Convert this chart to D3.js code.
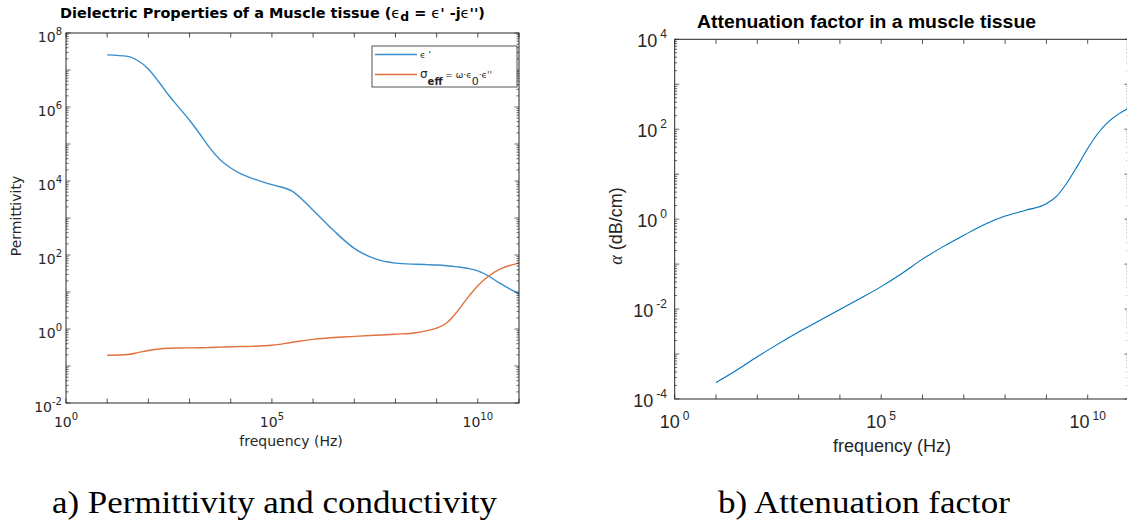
<!DOCTYPE html>
<html>
<head>
<meta charset="utf-8">
<script src="https://cdn.jsdelivr.net/npm/d3@7"></script>
<style>
  html, body { margin: 0; padding: 0; background: #fff; }
  svg { display: block; }
  .fa { font-family: "DejaVu Sans", sans-serif; }
  .fb { font-family: "Liberation Sans", Arimo, Arial, Roboto, sans-serif; }
  .fs { font-family: "Liberation Serif", Tinos, "Times New Roman", "DejaVu Serif", serif; }
</style>
</head>
<body>
<div id="chart"></div>
<script>
"use strict";

// frequencies (Hz) for the muscle tissue curves, left panel
const freqA = [10, 31.6, 56.2, 100, 178, 316, 562, 1e3, 1.78e3, 3.16e3, 5.62e3,
  1e4, 1.78e4, 3.16e4, 1e5, 3.16e5, 1e6, 3.16e6, 1e7, 3.16e7, 1e8, 3.16e8,
  5.62e8, 1e9, 1.78e9, 3.16e9, 5.62e9, 1e10, 1.78e10, 3.16e10, 5.62e10, 1e11];

// relative permittivity eps'
const epsReal = [2.57e7, 2.34e7, 1.78e7, 1.07e7, 4.8e6, 2.04e6, 9.5e5, 4.37e5,
  1.86e5, 7.59e4, 3.7e4, 2.24e4, 1.55e4, 1.2e4, 7.94e3, 5.25e3, 1.62e3, 457,
  151, 79.4, 60.3, 56.2, 55, 53.7, 51.3, 47.9, 43.7, 37.2, 27.5, 18.2, 12.6, 8.9];

// effective conductivity
const sigmaEff = [0.195, 0.204, 0.229, 0.263, 0.288, 0.302, 0.306, 0.309, 0.312,
  0.316, 0.324, 0.331, 0.335, 0.339, 0.363, 0.437, 0.525, 0.589, 0.631, 0.676,
  0.724, 0.794, 0.891, 1.05, 1.48, 2.95, 6.92, 14.8, 26.3, 39.8, 51.3, 60.3];

// right panel
const freqB = [10, 31.6, 100, 316, 1e3, 3.16e3, 1e4, 3.16e4, 1e5, 3.16e5, 1e6,
  3.16e6, 1e7, 3.16e7, 1e8, 3.16e8, 1e9, 1.78e9, 3.16e9, 5.62e9, 1e10, 1.78e10,
  3.16e10, 5.62e10, 1e11];

// attenuation (dB/cm)
const alphaDb = [2.34e-4, 4.37e-4, 8.71e-4, 1.66e-3, 3.09e-3, 5.5e-3, 9.77e-3,
  1.74e-2, 3.16e-2, 6.17e-2, 0.129, 0.245, 0.437, 0.759, 1.17, 1.58, 2.19, 3.24,
  6.46, 15.1, 37.2, 81.3, 145, 219, 295];

const xExpLabels = [0, 5, 10];
const yExpA = [-2, 0, 2, 4, 6, 8];
const yExpB = [-4, -2, 0, 2, 4];

const W = 1127;
const H = 520;
const axisColor = "#262626";

const svg = d3.select("#chart").append("svg")
  .attr("width", W).attr("height", H);

// draw a decade log axes box, MATLAB style
function drawBox(g, x, y, opt) {
  const [x0, x1] = x.range();
  const [y1, y0] = y.range();

  // x ticks: one per decade, top and bottom
  const xt = d3.range(0, 12).map((e) => Math.pow(10, e));
  xt.forEach((v) => {
    const px = x(v);
    g.append("line").attr("x1", px).attr("x2", px)
      .attr("y1", y1).attr("y2", y1 - opt.tick)
      .attr("stroke", axisColor).attr("stroke-width", 0.8);
    g.append("line").attr("x1", px).attr("x2", px)
      .attr("y1", y0).attr("y2", y0 + opt.tick)
      .attr("stroke", axisColor).attr("stroke-width", 0.8);
  });

  // y ticks: major + minor
  const [lo, hi] = y.domain().map((d) => Math.round(Math.log10(d)));
  for (let e = lo; e <= hi; e++) {
    for (let m = 1; m <= 9; m++) {
      const v = m * Math.pow(10, e);
      if (v > Math.pow(10, hi) + 1e-9) break;
      const len = m === 1 ? opt.tick : opt.minor;
      const py = y(v);
      g.append("line").attr("x1", x0).attr("x2", x0 + len)
        .attr("y1", py).attr("y2", py)
        .attr("stroke", axisColor).attr("stroke-width", 0.7);
      g.append("line").attr("x1", x1).attr("x2", x1 - len)
        .attr("y1", py).attr("y2", py)
        .attr("stroke", axisColor).attr("stroke-width", 0.7);
    }
  }

  g.append("rect")
    .attr("x", x0).attr("y", y0)
    .attr("width", x1 - x0).attr("height", y1 - y0)
    .attr("fill", "none")
    .attr("stroke", axisColor).attr("stroke-width", 1);
}

function powLabel(g, px, py, exp, o) {
  const t = g.append("text")
    .attr("class", o.cls)
    .attr("x", px).attr("y", py)
    .attr("text-anchor", o.anchor)
    .attr("font-size", o.size)
    .attr("fill", axisColor);
  t.append("tspan").text("10");
  t.append("tspan")
    .attr("dx", o.gap).attr("dy", -o.raise)
    .attr("font-size", o.sup)
    .text(exp);
}

// ---------- left panel ----------
const gA = svg.append("g");
const xA = d3.scaleLog().domain([1, 1e11]).range([66, 519]);
const yA = d3.scaleLog().domain([1e-2, 1e8]).range([403, 33]);

const lineA = (vals, color) => {
  const pts = freqA.map((f, i) => [f, vals[i]]);
  gA.append("path")
    .datum(pts)
    .attr("fill", "none")
    .attr("stroke", color)
    .attr("stroke-width", 1.4)
    .attr("d", d3.line()
      .x((d) => xA(d[0]))
      .y((d) => yA(d[1]))
      .curve(d3.curveMonotoneX));
};

lineA(epsReal, "#3a8dcc");
lineA(sigmaEff, "#e2713f");
drawBox(gA, xA, yA, { tick: 4.5, minor: 2.5 });

const labA = { anchor: "middle", cls: "fa", size: 14, sup: 10, raise: 7, gap: 0 };
xExpLabels.forEach((e) => powLabel(gA, xA(Math.pow(10, e)), 427, e, labA));
yExpA.forEach((e) => powLabel(gA, 62, yA(Math.pow(10, e)) + 9, e,
  Object.assign({}, labA, { anchor: "end" })));

gA.append("text")
  .attr("class", "fa")
  .attr("x", 291).attr("y", 446)
  .attr("text-anchor", "middle")
  .attr("font-size", 14)
  .attr("fill", axisColor)
  .text("frequency (Hz)");

gA.append("text")
  .attr("class", "fa")
  .attr("transform", "translate(21,216) rotate(-90)")
  .attr("text-anchor", "middle")
  .attr("font-size", 14)
  .attr("fill", axisColor)
  .text("Permittivity");

// title with the tex bits
const titleA = gA.append("text")
  .attr("class", "fa")
  .attr("x", 60).attr("y", 18)
  .attr("font-size", 14)
  .attr("font-weight", "bold").attr("fill", "#000")
  .attr("textLength", 425).attr("lengthAdjust", "spacingAndGlyphs");
titleA.append("tspan").text("Dielectric Properties of a Muscle tissue (");
titleA.append("tspan").attr("font-weight", "normal").text("\u03f5");
titleA.append("tspan").attr("dy", 3).attr("font-size", 12).text("d");
titleA.append("tspan").attr("dy", -3).text(" = ");
titleA.append("tspan").attr("font-weight", "normal").text("\u03f5");
titleA.append("tspan").text("' -j");
titleA.append("tspan").attr("font-weight", "normal").text("\u03f5");
titleA.append("tspan").text("'')");

// legend
const leg = gA.append("g");
leg.append("rect")
  .attr("x", 372).attr("y", 46).attr("width", 145).attr("height", 41)
  .attr("fill", "#fff").attr("stroke", axisColor).attr("stroke-width", 0.8);
leg.append("line").attr("x1", 375).attr("x2", 417).attr("y1", 54.5).attr("y2", 54.5)
  .attr("stroke", "#3a8dcc").attr("stroke-width", 1.4);
leg.append("line").attr("x1", 375).attr("x2", 417).attr("y1", 74.5).attr("y2", 74.5)
  .attr("stroke", "#e2713f").attr("stroke-width", 1.4);
leg.append("text")
  .attr("class", "fa")
  .attr("x", 420).attr("y", 58)
  .attr("font-size", 9).attr("fill", axisColor)
  .text("\u03f5 '");
const lt = leg.append("text")
  .attr("class", "fa")
  .attr("x", 420).attr("y", 78)
  .attr("font-size", 9).attr("fill", axisColor);
lt.append("tspan").attr("font-size", 12).text("\u03c3");
lt.append("tspan").attr("dy", 7).attr("font-size", 10).attr("font-weight", "bold").text("eff");
lt.append("tspan").attr("dy", -7).text(" = \u03c9\u00b7\u03f5");
lt.append("tspan").attr("dy", 7).attr("font-size", 11).text("0");
lt.append("tspan").attr("dy", -7).text("\u00b7\u03f5''");

// ---------- right panel ----------
const gB = svg.append("g");
const xB = d3.scaleLog().domain([1, 1e11]).range([674.7, 1129]);
const yB = d3.scaleLog().domain([1e-4, 1e4]).range([399, 39.3]);

gB.append("path")
  .datum(freqB.map((f, i) => [f, alphaDb[i]]))
  .attr("fill", "none")
  .attr("stroke", "#0072BD")
  .attr("stroke-width", 1.1)
  .attr("d", d3.line()
    .x((d) => xB(d[0]))
    .y((d) => yB(d[1]))
    .curve(d3.curveMonotoneX));

drawBox(gB, xB, yB, { tick: 4.5, minor: 2.5 });

const labB = { anchor: "middle", cls: "fb", size: 18, sup: 12, raise: 8, gap: 3 };
xExpLabels.forEach((e) => powLabel(gB, xB(Math.pow(10, e)), 428, e, labB));
yExpB.forEach((e) => powLabel(gB, 667, yB(Math.pow(10, e)) + 8, e,
  Object.assign({}, labB, { anchor: "end", raise: 9 })));

gB.append("text")
  .attr("class", "fb")
  .attr("x", 892).attr("y", 452)
  .attr("text-anchor", "middle")
  .attr("font-size", 18)
  .attr("fill", axisColor)
  .text("frequency (Hz)");

const ylB = gB.append("text")
  .attr("class", "fb")
  .attr("transform", "translate(622,226) rotate(-90)")
  .attr("text-anchor", "middle")
  .attr("font-size", 18)
  .attr("fill", axisColor);
ylB.append("tspan")
  .attr("class", "fs")
  .attr("font-style", "italic").text("\u03b1");
ylB.append("tspan").text(" (dB/cm)");

gB.append("text")
  .attr("class", "fb")
  .attr("x", 697).attr("y", 28)
  .attr("font-size", 18.5)
  .attr("font-weight", "bold").attr("fill", "#000")
  .attr("textLength", 339).attr("lengthAdjust", "spacingAndGlyphs")
  .text("Attenuation factor in a muscle tissue");

// ---------- captions ----------
svg.append("text")
  .attr("class", "fs")
  .attr("x", 52).attr("y", 513)
  .attr("font-size", 31)
  .attr("textLength", 445).attr("lengthAdjust", "spacingAndGlyphs")
  .text("a) Permittivity and conductivity");
svg.append("text")
  .attr("class", "fs")
  .attr("x", 718).attr("y", 513)
  .attr("font-size", 31)
  .attr("textLength", 292).attr("lengthAdjust", "spacingAndGlyphs")
  .text("b) Attenuation factor");
</script>
</body>
</html>
